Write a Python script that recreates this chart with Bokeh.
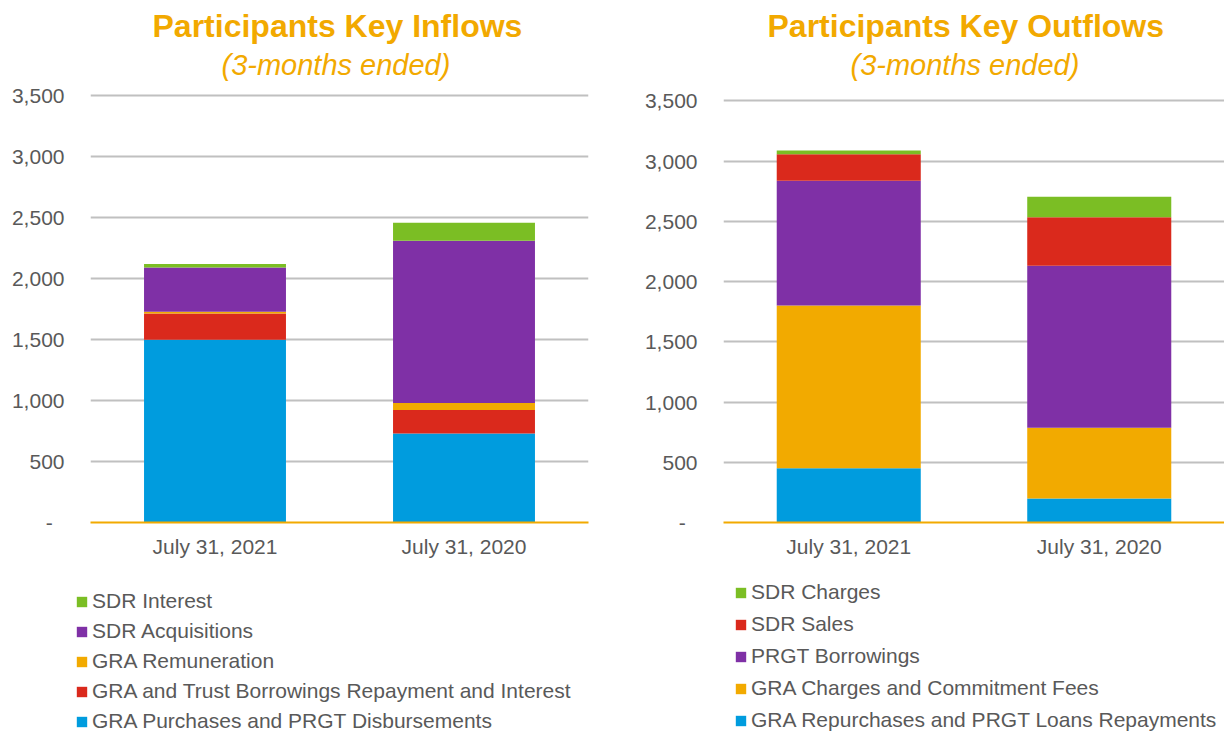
from bokeh.plotting import figure
from bokeh.layouts import row, column
from bokeh.models import (Range1d, FixedTicker, NumeralTickFormatter, Legend, LegendItem,
                          Title, ColumnDataSource)
from bokeh.embed import file_html
from bokeh.resources import INLINE

# ---------------- data ----------------
categories = ["July 31, 2021", "July 31, 2020"]

# Inflows (stack order bottom -> top)
in_names = ["GRA Purchases and PRGT Disbursements",
            "GRA and Trust Borrowings Repayment and Interest",
            "GRA Remuneration",
            "SDR Acquisitions",
            "SDR Interest"]
gra_purchases = [1500, 730]
gra_trust_borrowings = [215, 193]
gra_remuneration = [13, 57]
sdr_acquisitions = [364, 1332]
sdr_interest = [28, 147]

# Outflows (stack order bottom -> top)
out_names = ["GRA Repurchases and PRGT Loans Repayments",
             "GRA Charges and Commitment Fees",
             "PRGT Borrowings",
             "SDR Sales",
             "SDR Charges"]
gra_repurchases = [450, 200]
gra_charges = [1350, 587]
prgt_borrowings = [1036, 1343]
sdr_sales = [221, 404]
sdr_charges = [30, 170]

y_ticks = [0, 500, 1000, 1500, 2000, 2500, 3000, 3500]

BLUE, RED, ORANGE, PURPLE, GREEN = "#009CDE", "#DA291C", "#F2AA00", "#7F30A6", "#7BBE24"
TITLE_C = "#F2A900"
TEXT_C = "#595959"
FONT = "Liberation Sans"
MAIN_H = 575
LEG_H = 158


def make_panel(title, series, colors, width, border_left, border_right,
               y_end, border_bottom, bar_width, title_off, sub_off):
    p = figure(x_range=categories, y_range=Range1d(0, y_end), width=width, height=MAIN_H,
               output_backend="svg", toolbar_location=None,
               min_border_left=border_left, min_border_right=border_right,
               min_border_top=88, min_border_bottom=border_bottom)
    p.outline_line_color = None
    p.background_fill_color = "white"
    p.border_fill_color = "white"

    data = {"cat": categories}
    keys = []
    for i, s in enumerate(series):
        k = "s%d" % i
        data[k] = s
        keys.append(k)
    p.vbar_stack(keys, x="cat", width=bar_width, color=colors, source=data, line_color=None)

    # titles (first added is closest to the plot)
    p.add_layout(Title(text="(3-months ended)", align="left", offset=sub_off, text_font=FONT,
                       text_font_size="29px", text_font_style="italic",
                       text_color=TITLE_C, standoff=15), "above")
    p.add_layout(Title(text=title, align="left", offset=title_off, text_font=FONT,
                       text_font_size="32px", text_font_style="bold",
                       text_color=TITLE_C, standoff=-9), "above")

    p.yaxis.ticker = FixedTicker(ticks=y_ticks)
    p.yaxis.formatter = NumeralTickFormatter(format="0,0")
    p.yaxis.major_label_overrides = {0: "-\u00a0\u00a0"}
    p.yaxis.axis_line_color = None
    p.yaxis.major_tick_line_color = None
    p.yaxis.minor_tick_line_color = None
    p.yaxis.major_tick_out = 0
    p.yaxis.major_tick_in = 0
    p.yaxis.major_label_standoff = 26
    p.yaxis.major_label_text_font = FONT
    p.yaxis.major_label_text_font_size = "21px"
    p.yaxis.major_label_text_color = TEXT_C

    p.xaxis.axis_line_color = ORANGE
    p.xaxis.axis_line_width = 2
    p.xaxis.major_tick_line_color = None
    p.xaxis.major_tick_out = 0
    p.xaxis.major_tick_in = 0
    p.xaxis.major_label_standoff = 12
    p.xaxis.major_label_text_font = FONT
    p.xaxis.major_label_text_font_size = "21px"
    p.xaxis.major_label_text_color = TEXT_C

    p.xgrid.grid_line_color = None
    p.ygrid.grid_line_color = "#C0C0C0"
    p.ygrid.grid_line_width = 2
    return p


def make_legend(names, colors, width, loc, label_h, spacing):
    lp = figure(width=width, height=LEG_H, x_range=Range1d(0, 1), y_range=Range1d(0, 1),
                output_backend="svg", toolbar_location=None,
                x_axis_location=None, y_axis_location=None,
                min_border=0, min_border_left=0, min_border_right=0,
                min_border_top=0, min_border_bottom=0)
    lp.outline_line_color = None
    lp.grid.grid_line_color = None
    lp.background_fill_color = "white"
    lp.border_fill_color = "white"
    items = []
    for n, c in zip(names, colors):
        # legend-only swatch renderer, kept outside the visible range
        src = ColumnDataSource(data=dict(x=[-10.0], top=[0.0]))
        r = lp.vbar(x="x", top="top", width=0.5, fill_color=c, line_color=None, source=src)
        items.append(LegendItem(label=n, renderers=[r]))
    items = items[::-1]
    leg = Legend(items=items, location=loc, orientation="vertical",
                 border_line_color=None, background_fill_alpha=0,
                 padding=0, margin=0, spacing=spacing,
                 glyph_width=13, glyph_height=13, label_height=label_h,
                 label_standoff=4, label_text_font=FONT,
                 label_text_font_size="21px", label_text_color=TEXT_C)
    lp.add_layout(leg, "center")
    return lp


in_colors = [BLUE, RED, ORANGE, PURPLE, GREEN]
out_colors = [BLUE, ORANGE, PURPLE, RED, GREEN]

p1 = make_panel("Participants Key Inflows",
                [gra_purchases, gra_trust_borrowings, gra_remuneration, sdr_acquisitions, sdr_interest],
                in_colors, width=638, border_left=90, border_right=50,
                y_end=3560, border_bottom=MAIN_H - 523, bar_width=0.57,
                title_off=62, sub_off=131)
p2 = make_panel("Participants Key Outflows",
                [gra_repurchases, gra_charges, prgt_borrowings, sdr_sales, sdr_charges],
                out_colors, width=586, border_left=85, border_right=0,
                y_end=3602, border_bottom=MAIN_H - 522, bar_width=0.575,
                title_off=44, sub_off=127)

l1 = make_legend(in_names, in_colors, 638, (75, 0), 24, 6)
l2 = make_legend(out_names, out_colors, 586, (96, 0), 26, 6)

layout = column(row(p1, p2), row(l1, l2))
open("out.html", "w").write(file_html(layout, INLINE))
